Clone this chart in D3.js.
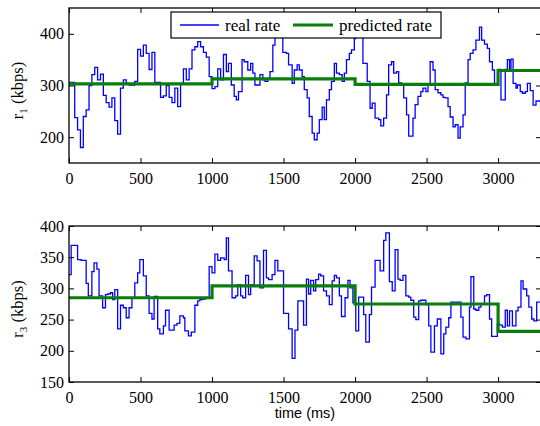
<!DOCTYPE html>
<html>
<head>
<meta charset="utf-8">
<script src="https://cdn.jsdelivr.net/npm/d3@7"></script>
<style>
    body { margin: 0; background: #fff; }
    svg { display: block; }
</style>
</head>
<body>
<div id="chart"></div>
<script>
// measured rate r1 (change points, ms -> kbps)
const r1Times = [0, 40, 60, 80, 100, 120, 140, 160, 180, 200, 220, 240, 260, 280, 300, 320, 340, 360, 380, 400,
    420, 460, 480, 500, 520, 540, 560, 580, 600, 640, 660, 680, 700, 720, 740, 760, 780, 800, 820, 840,
    860, 880, 900, 920, 940, 960, 980, 1000, 1020, 1040, 1060, 1080,
    1100, 1115, 1135, 1155, 1170, 1185, 1210, 1225, 1250, 1270, 1285, 1300, 1335, 1355, 1370, 1390, 1405, 1425,
    1440, 1460, 1495, 1520, 1535, 1560, 1575, 1595, 1610, 1630, 1645, 1665, 1680, 1700, 1715, 1735, 1750, 1770,
    1785, 1800, 1820, 1835, 1855, 1870, 1890, 1910, 1925, 1940, 1960, 1975, 1995, 2005, 2055, 2085, 2105, 2120,
    2140, 2165, 2180,
    2200, 2220, 2235, 2255, 2270, 2290, 2305, 2325, 2340, 2360, 2375, 2405, 2420, 2440, 2460, 2475, 2495, 2510,
    2525, 2545, 2560, 2580, 2600, 2615, 2630, 2650, 2665, 2685, 2700, 2720, 2735, 2755, 2770, 2790, 2805, 2825,
    2845, 2870, 2885, 2905, 2925, 2940, 2960, 2975, 3000, 3020, 3050, 3065, 3080, 3090, 3105, 3125, 3135, 3155,
    3170, 3190, 3205, 3225, 3245, 3265, 3300];
const r1Rates = [306, 238, 214, 180, 240, 253, 300, 321, 335, 311, 322, 281, 267, 258, 276, 232, 206, 295, 311, 304,
    301, 308, 370, 357, 378, 362, 331, 364, 306, 277, 280, 300, 277, 267, 295, 259, 304, 332, 311, 332,
    369, 375, 385, 375, 364, 355, 317, 294, 298, 332, 311, 360,
    327, 343, 301, 279, 272, 288, 350, 346, 330, 343, 324, 301, 321, 311, 308, 314, 327, 378,
    401, 425, 364, 362, 340, 304, 330, 340, 330, 317, 292, 276, 240, 208, 195, 208, 234, 258,
    234, 272, 292, 308, 343, 324, 321, 308, 324, 350, 362, 369, 391, 425, 343, 308, 256, 266,
    237, 234, 222,
    237, 282, 340, 346, 324, 327, 305, 301, 276, 243, 202, 237, 263, 279, 288, 295, 288, 301,
    346, 330, 292, 286, 282, 277, 276, 259, 239, 220, 224, 198, 220, 243, 305, 350, 362, 369,
    388, 413, 388, 380, 372, 346, 330, 301, 331, 272, 331, 350, 331, 351, 304, 295, 301, 288,
    285, 288, 304, 290, 262, 270, 270];

// measured rate r3
const r3Times = [0, 15, 60, 85, 120, 135, 160, 175, 195, 210, 235, 255, 270, 290, 305, 320, 340, 360, 380, 400,
    420, 440, 460, 480, 495, 520, 540, 560, 580, 595, 620, 635, 660, 675, 700, 735, 755, 775, 800, 810,
    835, 855, 880, 900, 915, 935, 955, 980, 1000, 1020, 1040, 1060, 1085,
    1100, 1115, 1140, 1165, 1180, 1200, 1215, 1235, 1255, 1270, 1295, 1315, 1335, 1360, 1380, 1395, 1420, 1440,
    1460, 1500, 1535, 1560, 1580, 1600, 1640, 1660, 1675, 1690, 1710, 1725, 1745, 1760, 1780, 1800, 1820, 1840,
    1855, 1870, 1890, 1905, 1930, 1950, 1965, 1985, 2005, 2025, 2060, 2075, 2100, 2115, 2140, 2175,
    2200, 2215, 2240, 2260, 2280, 2300, 2315, 2335, 2355, 2375, 2390, 2410, 2425, 2445, 2460, 2495, 2515, 2530,
    2555, 2575, 2600, 2620, 2635, 2655, 2670, 2740, 2755, 2775, 2800, 2810, 2830, 2845, 2865, 2880, 2905, 2920,
    2940, 2955, 2995, 3010, 3030, 3050, 3065, 3080, 3100, 3125, 3140, 3160, 3175, 3200, 3215, 3235, 3250, 3270, 3300];
const r3Rates = [322, 369, 346, 345, 308, 288, 327, 341, 331, 288, 269, 290, 291, 293, 282, 298, 235, 273, 269, 253,
    269, 285, 309, 325, 346, 320, 288, 260, 251, 287, 235, 227, 240, 265, 233, 241, 244, 256, 253, 232,
    224, 230, 273, 280, 282, 283, 285, 335, 325, 355, 345, 349, 346,
    381, 328, 285, 288, 306, 288, 285, 321, 290, 306, 352, 344, 301, 361, 317, 314, 322, 345,
    328, 260, 235, 188, 233, 280, 241, 315, 291, 313, 296, 314, 323, 320, 296, 288, 274, 312,
    321, 317, 288, 255, 285, 313, 301, 277, 232, 286, 258, 214, 258, 302, 345, 328,
    377, 389, 311, 296, 362, 315, 313, 321, 288, 286, 281, 254, 250, 280, 281, 274, 240, 198,
    240, 251, 195, 227, 238, 253, 278, 254, 222, 219, 270, 319, 267, 265, 270, 275, 288, 290,
    251, 223, 243, 241, 238, 265, 240, 264, 240, 264, 270, 312, 299, 288, 270, 251, 248, 278, 278];

// predicted rate, piecewise constant per second
const predTimes = [0, 1000, 2000, 3000, 3300];
const r1Pred = [303, 313, 302, 329, 329];
const r3Pred = [285, 304, 275, 231, 231];

const xTicks = [0, 500, 1000, 1500, 2000, 2500, 3000];
const r1Ticks = [200, 300, 400];
const r3Ticks = [150, 200, 250, 300, 350, 400];

const serif = '"Liberation Serif", "Times New Roman", Times, serif';
const sans = '"Liberation Sans", Arial, Helvetica, sans-serif';

const width = 540, height = 426;
const left = 69, right = 541;

const svg = d3.select('#chart').append('svg')
    .attr('width', width)
    .attr('height', height);

const x = d3.scaleLinear().domain([0, 3300]).range([left, right]);

function drawPanel(cfg, idx) {
    const y = d3.scaleLinear().domain(cfg.domain).range([cfg.bottom, cfg.top]);
    const g = svg.append('g');

    g.append('defs').append('clipPath')
        .attr('id', 'clip' + idx)
        .append('rect')
        .attr('x', left).attr('y', cfg.top)
        .attr('width', right - left).attr('height', cfg.bottom - cfg.top);

    const plot = g.append('g').attr('clip-path', `url(#clip${idx})`);

    const line = d3.line()
        .x(d => x(d[0]))
        .y(d => y(d[1]))
        .curve(d3.curveStepAfter);

    plot.append('path')
        .datum(d3.zip(cfg.times, cfg.rates))
        .attr('d', line)
        .attr('fill', 'none')
        .attr('stroke', '#0000ff')
        .attr('stroke-width', 1.3);

    plot.append('path')
        .datum(d3.zip(predTimes, cfg.pred))
        .attr('d', line)
        .attr('fill', 'none')
        .attr('stroke', '#0a7d0a')
        .attr('stroke-width', 3.2);

    // axes, matlab style: ticks inward on all sides
    const fmt = d3.format('d');
    g.append('g')
        .attr('transform', `translate(0,${cfg.bottom})`)
        .call(d3.axisBottom(x).tickValues(xTicks).tickFormat(fmt).tickSize(-5).tickPadding(10))
        .call(a => a.select('.domain').remove());
    g.append('g')
        .attr('transform', `translate(0,${cfg.top})`)
        .call(d3.axisTop(x).tickValues(xTicks).tickSize(-5).tickFormat(''))
        .call(a => a.select('.domain').remove());
    g.append('g')
        .attr('transform', `translate(${left},0)`)
        .call(d3.axisLeft(y).tickValues(cfg.ticks).tickFormat(fmt).tickSize(-5).tickPadding(5))
        .call(a => a.select('.domain').remove());
    g.append('g')
        .attr('transform', `translate(${right},0)`)
        .call(d3.axisRight(y).tickValues(cfg.ticks).tickSize(-5).tickFormat(''))
        .call(a => a.select('.domain').remove());

    g.selectAll('.tick line').attr('stroke', '#000').attr('stroke-width', 1);
    g.selectAll('.tick text')
        .attr('fill', '#000')
        .style('font-family', serif)
        .style('font-size', '16px');

    g.append('rect')
        .attr('x', left).attr('y', cfg.top)
        .attr('width', right - left).attr('height', cfg.bottom - cfg.top)
        .attr('fill', 'none')
        .attr('stroke', '#000')
        .attr('stroke-width', 1.3);

    // y title with subscript
    const cy = (cfg.top + cfg.bottom) / 2 + 5;
    const t = g.append('text')
        .style('font-family', serif)
        .style('font-size', '16.5px')
        .attr('transform', `translate(23,${cy}) rotate(-90)`)
        .attr('text-anchor', 'middle');
    t.append('tspan').text('r');
    t.append('tspan').style('font-size', '11px').attr('dy', 4).text(cfg.sub);
    t.append('tspan').attr('dy', -4).text(' (kbps)');

    return g;
}

const topPanel = drawPanel({ top: 8, bottom: 163, domain: [150, 450], ticks: r1Ticks,
    times: r1Times, rates: r1Rates, pred: r1Pred, sub: '1' }, 1);
drawPanel({ top: 226, bottom: 382, domain: [150, 400], ticks: r3Ticks,
    times: r3Times, rates: r3Rates, pred: r3Pred, sub: '3' }, 2);

svg.append('text')
    .style('font-family', sans)
    .style('font-size', '14.5px')
    .attr('x', (left + right) / 2)
    .attr('y', 418)
    .attr('text-anchor', 'middle')
    .text('time (ms)');

// legend
const legend = topPanel.append('g');
legend.append('rect')
    .attr('x', 171).attr('y', 12)
    .attr('width', 270).attr('height', 26)
    .attr('fill', '#fff')
    .attr('stroke', '#000')
    .attr('stroke-width', 1.2);
legend.append('line')
    .attr('x1', 180).attr('x2', 219).attr('y1', 25).attr('y2', 25)
    .attr('stroke', '#0000ff').attr('stroke-width', 1.3);
legend.append('text')
    .style('font-family', serif)
    .style('font-size', '17px')
    .attr('x', 225).attr('y', 31)
    .text('real rate');
legend.append('line')
    .attr('x1', 293).attr('x2', 333).attr('y1', 25).attr('y2', 25)
    .attr('stroke', '#0a7d0a').attr('stroke-width', 3.2);
legend.append('text')
    .style('font-family', serif)
    .style('font-size', '17px')
    .attr('x', 339).attr('y', 31)
    .text('predicted rate');
</script>
</body>
</html>
